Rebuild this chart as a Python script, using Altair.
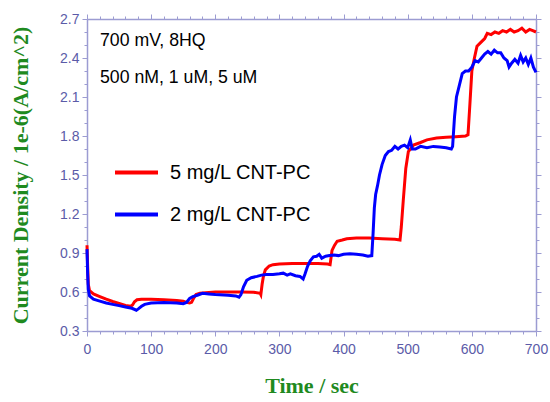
import altair as alt
import pandas as pd

# Chronoamperometric response, 700 mV, 8HQ additions
red_label = "5 mg/L CNT-PC"
blue_label = "2 mg/L CNT-PC"

red_t = [0, 1, 2, 4, 10, 20, 30, 40, 50, 60, 68, 71, 74, 78, 85, 100, 120, 140,
         150, 155, 160, 163, 166, 170, 176, 185, 200, 220, 240, 260, 270, 271,
         273, 275, 278, 284, 290, 300, 320, 340, 360, 375, 379, 382, 386, 390,
         398, 405, 420, 440, 460, 480, 488, 490, 493, 497, 501, 509, 520, 530,
         545, 560, 575, 590, 594, 597, 600, 604, 608, 614, 620, 624, 630, 636,
         642, 648, 654, 660, 666, 672, 678, 684, 690, 695, 700]
red_v = [0.96, 0.80, 0.66, 0.61, 0.585, 0.565, 0.545, 0.527, 0.512, 0.497, 0.49,
         0.50, 0.525, 0.54, 0.545, 0.545, 0.54, 0.535, 0.53, 0.52, 0.515, 0.52,
         0.55, 0.58, 0.59, 0.595, 0.60, 0.60, 0.60, 0.598, 0.59, 0.58, 0.66,
         0.72, 0.77, 0.80, 0.81, 0.815, 0.82, 0.82, 0.82, 0.815, 0.81, 0.92,
         0.96, 0.99, 1.0, 1.01, 1.015, 1.015, 1.01, 1.005, 1.0, 1.10, 1.30,
         1.55, 1.68, 1.73, 1.75, 1.77, 1.785, 1.79, 1.795, 1.80, 1.81, 2.05,
         2.30, 2.40, 2.49, 2.52, 2.55, 2.59, 2.58, 2.60, 2.59, 2.61, 2.60,
         2.62, 2.60, 2.61, 2.63, 2.60, 2.62, 2.61, 2.60]

blue_t = [0, 1, 2, 4, 10, 20, 30, 40, 50, 60, 70, 77, 80, 85, 90, 100, 120, 140,
          150, 155, 160, 165, 172, 180, 190, 200, 220, 232, 237, 240, 244, 249,
          256, 265, 272, 280, 290, 300, 306, 312, 317, 325, 332, 337, 340, 344,
          348, 353, 358, 362, 366, 372, 378, 385, 392, 400, 410, 420, 430, 438,
          444, 446, 448, 450, 453, 456, 460, 465, 470, 475, 480, 485, 490, 495,
          500, 504, 507, 512, 520, 530, 540, 550, 560, 568, 570, 573, 576, 580,
          585, 590, 595, 600, 605, 610, 615, 620, 625, 630, 635, 640, 645, 650,
          655, 658, 662, 667, 672, 676, 680, 684, 688, 692, 696, 700]
blue_v = [0.93, 0.74, 0.62, 0.57, 0.545, 0.53, 0.515, 0.505, 0.495, 0.485, 0.475,
          0.46, 0.47, 0.49, 0.505, 0.515, 0.52, 0.515, 0.51, 0.52, 0.55, 0.565,
          0.575, 0.59, 0.585, 0.58, 0.575, 0.57, 0.56, 0.58, 0.64, 0.69, 0.71,
          0.72, 0.73, 0.735, 0.735, 0.74, 0.745, 0.73, 0.74, 0.725, 0.72, 0.70,
          0.74, 0.80, 0.84, 0.87, 0.875, 0.89, 0.86, 0.875, 0.88, 0.885, 0.88,
          0.89, 0.895, 0.89, 0.885, 0.875, 0.88, 1.05, 1.25, 1.35, 1.42, 1.50,
          1.58, 1.65, 1.68, 1.69, 1.72, 1.70, 1.72, 1.73, 1.71, 1.77, 1.70,
          1.70, 1.72, 1.71, 1.72, 1.715, 1.71, 1.70, 1.72, 1.95, 2.10, 2.18,
          2.28, 2.30, 2.30, 2.33, 2.38, 2.37, 2.40, 2.43, 2.45, 2.43, 2.46,
          2.44, 2.44, 2.40, 2.38, 2.33, 2.36, 2.39, 2.36, 2.42, 2.37, 2.40,
          2.35, 2.40, 2.33, 2.29]

notes = ["700 mV, 8HQ", "500 nM, 1 uM, 5 uM"]

x_ticks = list(range(0, 701, 20))
y_ticks = [round(0.3 + 0.1 * i, 1) for i in range(25)]

red_df = pd.DataFrame({"t": red_t, "v": red_v, "series": red_label})
blue_df = pd.DataFrame({"t": blue_t, "v": blue_v, "series": blue_label})

AXIS_COLOR = "#9c9cd2"
LABEL_COLOR = "#5b5ba8"
TITLE_COLOR = "#1f8a1f"

x_scale = alt.Scale(domain=[0, 700], nice=False, zero=False)
y_scale = alt.Scale(domain=[0.3, 2.7], nice=False, zero=False)
color_scale = alt.Scale(domain=[red_label, blue_label], range=["#ff0000", "#0000ff"])

major_x = {"condition": {"test": "datum.value % 100 === 0", "value": 5}, "value": 3}
major_y = {"condition": {"test": "round(datum.value * 10) % 3 === 0", "value": 5}, "value": 3}

x_bottom = alt.Axis(
    values=x_ticks, orient="bottom", title="Time / sec",
    labelExpr="datum.value % 100 === 0 ? datum.label : ''",
    format="d", tickSize=major_x, labelPadding=6, titlePadding=19,
    labelFlush=False, labelOverlap=False,
)
y_left = alt.Axis(
    values=y_ticks, orient="left", title="Current Density / 1e-6(A/cm^2)",
    labelExpr="round(datum.value * 10) % 3 === 0 ? format(datum.value, '.1f') : ''",
    tickSize=major_y, labelPadding=3, titlePadding=27,
    labelFlush=False, labelOverlap=False,
)
x_top = alt.Axis(values=x_ticks, orient="top", labels=False, title=None, tickSize=major_x)
y_right = alt.Axis(values=y_ticks, orient="right", labels=False, title=None, tickSize=major_y)

color_enc = alt.Color(
    "series:N", scale=color_scale, title=None,
    legend=alt.Legend(
        orient="none", legendX=26, legendY=130, symbolType="stroke",
        symbolSize=1849, symbolStrokeWidth=4, labelFontSize=20,
        labelFont="Liberation Sans", labelColor="#000000", labelOffset=10,
        rowPadding=8, padding=0,
    ),
)

red_line = alt.Chart(red_df).mark_line(strokeWidth=3, interpolate="linear").encode(
    x=alt.X("t:Q", scale=x_scale, axis=x_bottom),
    y=alt.Y("v:Q", scale=y_scale, axis=y_left),
    color=color_enc,
)

blue_line = alt.Chart(blue_df).mark_line(strokeWidth=3, interpolate="linear").encode(
    x=alt.X("t:Q", scale=x_scale, axis=x_top),
    y=alt.Y("v:Q", scale=y_scale, axis=y_right),
    color=color_enc,
)


def note_layer(text, ypos):
    return alt.Chart(pd.DataFrame({"note": [text]})).mark_text(
        align="left", baseline="middle", fontSize=17.7,
        font="Liberation Sans", color="#000000",
    ).encode(x=alt.value(13), y=alt.value(ypos), text="note:N")


chart = alt.layer(
    red_line, blue_line, note_layer(notes[0], 22), note_layer(notes[1], 59)
).resolve_axis(
    x="independent", y="independent"
).properties(
    width=449, height=312,
    autosize=alt.AutoSizeParams(type="none"),
    padding={"left": 87, "top": 19, "right": 14, "bottom": 71},
    background="#ffffff",
).configure_view(
    stroke=None
).configure_axis(
    domainColor=AXIS_COLOR, tickColor=AXIS_COLOR, domainWidth=1.5, tickWidth=1,
    labelColor=LABEL_COLOR, labelFont="Liberation Sans", labelFontSize=14,
    titleColor=TITLE_COLOR, titleFont="Liberation Serif", titleFontWeight="bold",
    titleFontSize=22, grid=False,
)

chart.save("out.html", embed_options={"renderer": "svg", "actions": False})
